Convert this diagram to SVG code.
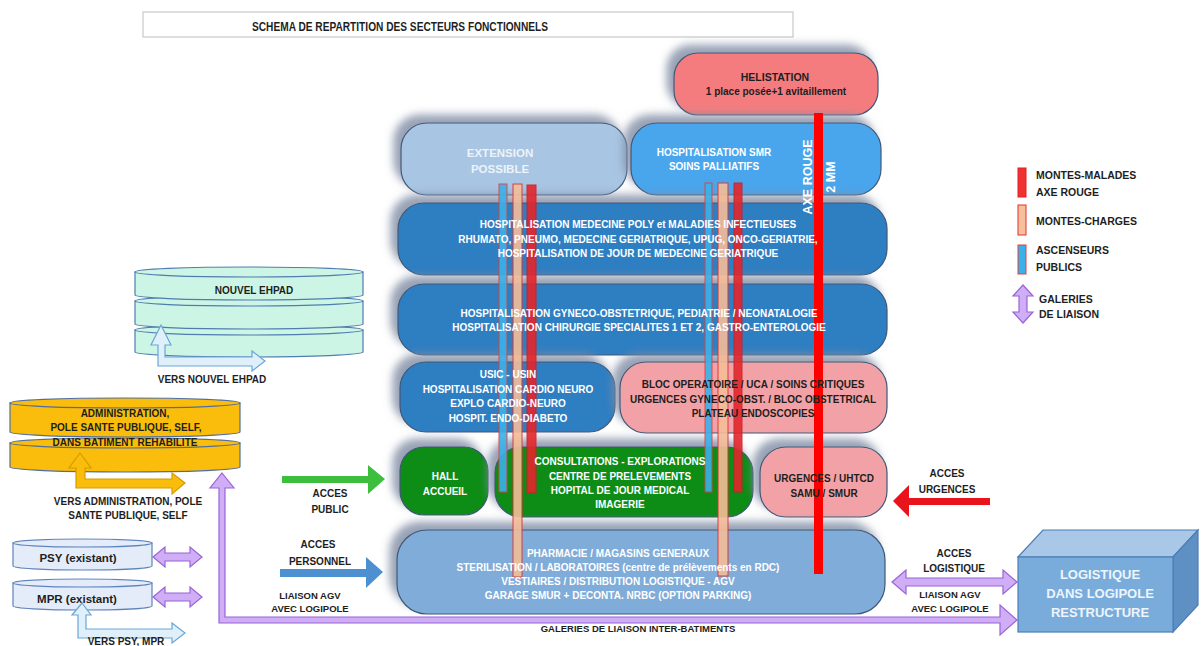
<svg xmlns="http://www.w3.org/2000/svg" width="1203" height="646" viewBox="0 0 1203 646" font-size="10">
<defs>
<filter id="sh" x="-20%" y="-40%" width="140%" height="180%">
<feDropShadow dx="-7" dy="-8" stdDeviation="4" flood-color="#7d8aa3" flood-opacity="0.8"/>
</filter>
<style>
.t{font-family:'Liberation Sans',Arial,sans-serif;font-weight:bold;text-anchor:middle}
.w{fill:#ffffff}
.d{fill:#1e1e1e}
.box{stroke:#3f5878;stroke-width:1.2;filter:url(#sh)}
.blue{fill:#2f7ec2}
.pink{fill:#f2a2a6}
.green{fill:#0b8c14}
.cyl{stroke-width:1.2}
.purple{fill:#cfaef5;stroke:#9a63d8;stroke-width:1.2}
.lb{fill:#dff0fb;stroke:#6aa6d6;stroke-width:1.2}
.sb{fill:#3cb0e8;stroke:#d94040;stroke-width:1}
.sp{fill:#f5bd98;stroke:#e03030;stroke-width:1}
.sr{fill:#e3262c;stroke:#c81e24;stroke-width:1}
</style>
</defs>
<rect width="1203" height="646" fill="#ffffff"/>

<g id="title">
<rect x="143" y="12" width="650" height="25" fill="#ffffff" stroke="#c8c8c8" stroke-width="1.2"/>
<text class="t d" x="400" y="31" font-size="13.5" textLength="296" lengthAdjust="spacingAndGlyphs">SCHEMA DE REPARTITION DES SECTEURS FONCTIONNELS</text>
</g>

<g id="helistation">
<rect class="box" x="674" y="53" width="204" height="62" rx="24" fill="#f47b7e"/>
</g>
<g id="extension">
<rect class="box" x="401" y="123" width="226" height="72" rx="26" fill="#a8c5e3"/>
</g>
<g id="smr">
<rect class="box" x="631" y="123" width="250" height="72" rx="26" fill="#49a6ec"/>
</g>
<g id="medecine">
<rect class="box blue" x="398" y="203" width="489" height="72" rx="26"/>
</g>
<g id="gyneco">
<rect class="box blue" x="398" y="284" width="489" height="71" rx="26"/>
</g>
<g id="usic">
<rect class="box blue" x="400" y="362" width="215" height="70" rx="26"/>
</g>
<g id="bloc">
<rect class="box pink" x="620" y="362" width="267" height="71" rx="26"/>
</g>
<g id="hall">
<rect class="box green" x="400" y="447" width="88" height="68" rx="24"/>
</g>
<g id="consultations">
<rect class="box green" x="495" y="447" width="258" height="70" rx="26"/>
</g>
<g id="urgences">
<rect class="box pink" x="760" y="447" width="127" height="70" rx="26"/>
</g>
<g id="pharmacie">
<rect class="box" x="397" y="530" width="488" height="84" rx="30" fill="#80acd9"/>
</g>

<g id="ehpad">
<path class="cyl" d="M135,330 L135,352 A114,5 0 0 0 363,352 L363,330 Z" fill="#cdf5e6" stroke="#4f7db0"/>
<ellipse class="cyl" cx="249" cy="330" rx="114" ry="5" fill="#cdf5e6" stroke="#4f7db0"/>
<path class="cyl" d="M135,301 L135,324 A114,5 0 0 0 363,324 L363,301 Z" fill="#cdf5e6" stroke="#4f7db0"/>
<ellipse class="cyl" cx="249" cy="301" rx="114" ry="5" fill="#cdf5e6" stroke="#4f7db0"/>
<path class="cyl" d="M135,272 L135,295 A114,5 0 0 0 363,295 L363,272 Z" fill="#cdf5e6" stroke="#4f7db0"/>
<ellipse class="cyl" cx="249" cy="272" rx="114" ry="5" fill="#cdf5e6" stroke="#4f7db0"/>
<text class="t d" x="254" y="294">NOUVEL EHPAD</text>
</g>

<g id="administration">
<path class="cyl" d="M10,443 L10,467 A115,5 0 0 0 240,467 L240,443 Z" fill="#fbbd0b" stroke="#4f6ea0"/>
<ellipse class="cyl" cx="125" cy="443" rx="115" ry="5" fill="#fbbd0b" stroke="#4f6ea0"/>
<path class="cyl" d="M10,403 L10,432 A115,5 0 0 0 240,432 L240,403 Z" fill="#fbbd0b" stroke="#4f6ea0"/>
<ellipse class="cyl" cx="125" cy="403" rx="115" ry="5" fill="#fbbd0b" stroke="#4f6ea0"/>
<text class="t d" x="125" y="417">ADMINISTRATION,</text>
<text class="t d" x="126" y="431">POLE SANTE PUBLIQUE, SELF,</text>
<text class="t d" x="125" y="446">DANS BATIMENT REHABILITE</text>
</g>

<g id="psy">
<path class="cyl" d="M13,543 L13,566 A69.5,4 0 0 0 152,566 L152,543 Z" fill="#e3ecf8" stroke="#5f84bd"/>
<ellipse class="cyl" cx="82.5" cy="543" rx="69.5" ry="4" fill="#e3ecf8" stroke="#5f84bd"/>
<text class="t d" x="78" y="562" font-size="11.5">PSY (existant)</text>
</g>

<g id="mpr">
<path class="cyl" d="M13,583 L13,606 A69.5,4 0 0 0 152,606 L152,583 Z" fill="#e3ecf8" stroke="#5f84bd"/>
<ellipse class="cyl" cx="82.5" cy="583" rx="69.5" ry="4" fill="#e3ecf8" stroke="#5f84bd"/>
<text class="t d" x="77" y="603" font-size="11.5">MPR (existant)</text>
</g>

<g id="logistique">
<polygon points="1018,557 1173,557 1198,530 1043,530" fill="#a9c8e8" stroke="#4a7eb5" stroke-width="1.2"/>
<polygon points="1173,557 1198,530 1198,605 1173,632" fill="#5f90c4" stroke="#4a7eb5" stroke-width="1.2"/>
<rect x="1018" y="557" width="155" height="75" fill="#7aacdb" stroke="#4a7eb5" stroke-width="1.2"/>
<text class="t" x="1100" y="579" font-size="13" fill="#eef5fc">LOGISTIQUE</text>
<text class="t" x="1100" y="598" font-size="13" fill="#eef5fc">DANS LOGIPOLE</text>
<text class="t" x="1100" y="617" font-size="13" fill="#eef5fc">RESTRUCTURE</text>
</g>

<g id="connectors">
<g opacity="0.9">
<rect class="sb" x="499" y="184" width="8" height="308"/>
<rect class="sp" x="513" y="184" width="9" height="393"/>
<rect class="sr" x="527" y="185" width="9" height="308"/>
<rect class="sb" x="705" y="183" width="7" height="309"/>
<rect class="sp" x="718" y="183" width="10" height="393"/>
<rect class="sr" x="734" y="183" width="8" height="309"/>
</g>
<rect x="814" y="113" width="9" height="461" fill="#ff0000"/>
<text class="t w" font-size="12.5" transform="translate(812,177) rotate(-90)">AXE ROUGE</text>
<text class="t w" font-size="12.5" transform="translate(835,177) rotate(-90)">2 MM</text>

<polygon points="282,476 368,476 368,465 385,479 368,494 368,483 282,483" fill="#3dbf3d"/>
<polygon points="280,569 366,569 366,557 383,572 366,588 366,577 280,577" fill="#4d90d2"/>
<polygon points="990,498 909,498 909,485 893,501 909,517 909,505 990,505" fill="#e8131b"/>

<polygon class="purple" points="222,473 234,488 225,488 225,617 1000,617 1000,605 1017,620 1000,635 1000,623 219,623 219,488 210,488"/>
<polygon class="purple" points="892,582 906,570 906,578 1003,578 1003,570 1017,582 1003,594 1003,586 906,586 906,594"/>
<polygon class="purple" points="153,557 165,547 165,553 190,553 190,547 202,557 190,567 190,561 165,561 165,567"/>
<polygon class="purple" points="153,597 165,587 165,593 190,593 190,587 202,597 190,607 190,601 165,601 165,607"/>

<polygon class="lb" points="161,325 171,345 165,345 165,357 252,357 252,351 265,361 252,371 252,366 158,366 158,345 151,345"/>
<polygon points="80,453 91,468 85,468 85,479 172,479 172,473 185,483 172,494 172,488 76,488 76,468 69,468" fill="#fbbd0b" stroke="#d79b00" stroke-width="1.2"/>
<polygon class="lb" points="82,603 91,615 86,615 86,629 172,629 172,623 185,633 172,643 172,638 78,638 78,615 72,615"/>
</g>

<g id="helistation-label">
<text class="t d" x="775" y="81" font-size="10.5">HELISTATION</text>
<text class="t d" x="776" y="95">1 place posée+1 avitaillement</text>
</g>
<g id="extension-label">
<text class="t" x="500" y="157" fill="#eef3f9" font-size="11.5">EXTENSION</text>
<text class="t" x="500" y="173" fill="#eef3f9" font-size="11.5">POSSIBLE</text>
</g>
<g id="smr-label">
<text class="t w" x="714" y="156">HOSPITALISATION SMR</text>
<text class="t w" x="714" y="170">SOINS PALLIATIFS</text>
</g>
<g id="medecine-label">
<text class="t w" x="638" y="228">HOSPITALISATION MEDECINE POLY et MALADIES INFECTIEUSES</text>
<text class="t w" x="638" y="243">RHUMATO, PNEUMO, MEDECINE GERIATRIQUE, UPUG, ONCO-GERIATRIE,</text>
<text class="t w" x="638" y="257">HOSPITALISATION DE JOUR DE MEDECINE GERIATRIQUE</text>
</g>
<g id="gyneco-label">
<text class="t w" x="639" y="317">HOSPITALISATION GYNECO-OBSTETRIQUE, PEDIATRIE / NEONATALOGIE</text>
<text class="t w" x="639" y="331">HOSPITALISATION  CHIRURGIE SPECIALITES 1 ET 2, GASTRO-ENTEROLOGIE</text>
</g>
<g id="usic-label">
<text class="t w" x="508" y="378">USIC - USIN</text>
<text class="t w" x="508" y="393">HOSPITALISATION CARDIO NEURO</text>
<text class="t w" x="508" y="407">EXPLO CARDIO-NEURO</text>
<text class="t w" x="508" y="422">HOSPIT. ENDO-DIABETO</text>
</g>
<g id="bloc-label">
<text class="t d" x="753" y="388">BLOC OPERATOIRE / UCA / SOINS CRITIQUES</text>
<text class="t d" x="753" y="403">URGENCES GYNECO-OBST. / BLOC OBSTETRICAL</text>
<text class="t d" x="753" y="417">PLATEAU ENDOSCOPIES</text>
</g>
<g id="hall-label">
<text class="t w" x="445" y="480">HALL</text>
<text class="t w" x="445" y="495">ACCUEIL</text>
</g>
<g id="consultations-label">
<text class="t w" x="620" y="465">CONSULTATIONS - EXPLORATIONS</text>
<text class="t w" x="620" y="480">CENTRE DE PRELEVEMENTS</text>
<text class="t w" x="620" y="494">HOPITAL DE JOUR MEDICAL</text>
<text class="t w" x="620" y="508">IMAGERIE</text>
</g>
<g id="urgences-label">
<text class="t d" x="824" y="482">URGENCES / UHTCD</text>
<text class="t d" x="824" y="497">SAMU / SMUR</text>
</g>
<g id="pharmacie-label">
<text class="t w" x="618" y="557">PHARMACIE / MAGASINS GENERAUX</text>
<text class="t w" x="618" y="571">STERILISATION / LABORATOIRES (centre de prélèvements en RDC)</text>
<text class="t w" x="618" y="585">VESTIAIRES / DISTRIBUTION LOGISTIQUE - AGV</text>
<text class="t w" x="618" y="599">GARAGE SMUR + DECONTA. NRBC (OPTION PARKING)</text>
</g>

<g id="labels">
<text class="t d" x="212" y="383">VERS NOUVEL EHPAD</text>
<text class="t d" x="128" y="505">VERS ADMINISTRATION, POLE</text>
<text class="t d" x="128" y="519">SANTE PUBLIQUE, SELF</text>
<text class="t d" x="126" y="645">VERS PSY, MPR</text>
<text class="t d" x="330" y="497">ACCES</text>
<text class="t d" x="330" y="513">PUBLIC</text>
<text class="t d" x="318" y="548">ACCES</text>
<text class="t d" x="320" y="565">PERSONNEL</text>
<text class="t d" x="310" y="599" font-size="9.5">LIAISON AGV</text>
<text class="t d" x="310" y="612" font-size="9.5">AVEC LOGIPOLE</text>
<text class="t d" x="947" y="477">ACCES</text>
<text class="t d" x="947" y="493">URGENCES</text>
<text class="t d" x="954" y="557">ACCES</text>
<text class="t d" x="954" y="572">LOGISTIQUE</text>
<text class="t d" x="950" y="598" font-size="9.5">LIAISON AGV</text>
<text class="t d" x="950" y="612" font-size="9.5">AVEC LOGIPOLE</text>
<text class="t d" x="638" y="632" font-size="9.5">GALERIES DE LIAISON INTER-BATIMENTS</text>
</g>

<g id="legend">
<rect x="1018" y="168" width="8" height="29" fill="#f03232" stroke="#e02020"/>
<rect x="1018" y="205" width="8" height="30" fill="#f7c09c" stroke="#e03030"/>
<rect x="1018" y="245" width="8" height="29" fill="#3cb0e8" stroke="#e04040"/>
<polygon class="purple" points="1023,285 1033,296 1027,296 1027,312 1033,312 1023,323 1013,312 1019,312 1019,296 1013,296"/>
<g class="t d" style="text-anchor:start" font-size="10.5">
<text x="1036" y="179">MONTES-MALADES</text>
<text x="1036" y="196">AXE ROUGE</text>
<text x="1036" y="225">MONTES-CHARGES</text>
<text x="1036" y="254">ASCENSEURS</text>
<text x="1036" y="271">PUBLICS</text>
<text x="1039" y="303">GALERIES</text>
<text x="1039" y="318">DE LIAISON</text>
</g>
</g>
</svg>
